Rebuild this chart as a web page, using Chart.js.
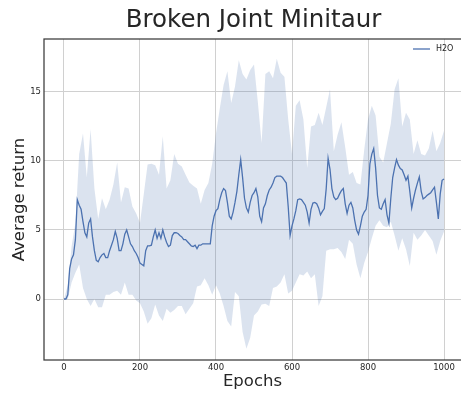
<!DOCTYPE html>
<html>
<head>
<meta charset="utf-8">
<script src="https://cdn.jsdelivr.net/npm/chart.js@4.4.1/dist/chart.umd.min.js"></script>
<style>
  html, body { margin: 0; padding: 0; background: #ffffff; overflow: hidden; }
  canvas { display: block; }
</style>
</head>
<body>
<canvas id="chart" width="461" height="396"></canvas>
<script>
// Mean return of H2O, sampled every 5 epochs
const epochs = [
  0, 5, 10, 15, 20, 25, 30, 35, 40, 45,
  50, 55, 60, 65, 70, 75, 80, 85, 90, 95,
  100, 105, 110, 115, 120, 125, 130, 135, 140, 145,
  150, 155, 160, 165, 170, 175, 180, 185, 190, 195,
  200, 205, 210, 215, 220, 225, 230, 235, 240, 245,
  250, 255, 260, 265, 270, 275, 280, 285, 290, 295,
  300, 305, 310, 315, 320, 325, 330, 335, 340, 345,
  350, 355, 360, 365, 370, 375, 380, 385, 390, 395,
  400, 405, 410, 415, 420, 425, 430, 435, 440, 445,
  450, 455, 460, 465, 470, 475, 480, 485, 490, 495,
  500, 505, 510, 515, 520, 525, 530, 535, 540, 545,
  550, 555, 560, 565, 570, 575, 580, 585, 590, 595,
  600, 605, 610, 615, 620, 625, 630, 635, 640, 645,
  650, 655, 660, 665, 670, 675, 680, 685, 690, 695,
  700, 705, 710, 715, 720, 725, 730, 735, 740, 745,
  750, 755, 760, 765, 770, 775, 780, 785, 790, 795,
  800, 805, 810, 815, 820, 825, 830, 835, 840, 845,
  850, 855, 860, 865, 870, 875, 880, 885, 890, 895,
  900, 905, 910, 915, 920, 925, 930, 935, 940, 945,
  950, 955, 960, 965, 970, 975, 980, 985, 990, 995,
  1000
];
const meanReturn = [
  0, 0, 0.3, 2.2, 2.9, 3.2, 4.3, 7.2, 6.8, 6.5,
  5.6, 4.8, 4.5, 5.5, 5.8, 4.5, 3.5, 2.8, 2.7, 3.0,
  3.2, 3.3, 3.0, 3.0, 3.5, 3.9, 4.3, 4.9, 4.4, 3.5,
  3.5, 4.0, 4.7, 5.0, 4.5, 4.0, 3.8, 3.5, 3.3, 3.0,
  2.6, 2.5, 2.4, 3.5, 3.85, 3.85, 3.9, 4.5, 5.0, 4.4,
  4.8, 4.4, 5.0, 4.5, 4.1, 3.8, 3.9, 4.6, 4.8, 4.8,
  4.75, 4.6, 4.5, 4.3, 4.3, 4.15, 4.0, 3.85, 3.8, 3.9,
  3.65, 3.9, 3.9, 4.0, 4.0, 4.0, 4.0, 4.0, 5.3, 6.0,
  6.4, 6.55, 7.2, 7.7, 8.0, 7.85, 7.0, 6.0, 5.8, 6.3,
  7.0, 7.8, 9.0, 10.1, 8.8, 7.3, 6.6, 6.3, 7.0, 7.5,
  7.7, 8.0, 7.4, 6.0, 5.6, 6.6, 6.9, 7.5, 7.9, 8.1,
  8.4, 8.8, 8.9, 8.9, 8.9, 8.8, 8.6, 8.4, 6.7, 4.6,
  5.3, 5.8, 6.4, 7.2, 7.25, 7.2, 7.0, 6.8, 6.3, 5.5,
  6.5, 6.95, 7.0, 6.9, 6.6, 6.1, 6.35, 6.55, 8.0, 10.2,
  9.4, 8.0, 7.4, 7.2, 7.3, 7.6, 7.85, 8.0, 6.9, 6.2,
  6.8, 7.0, 6.6, 5.7, 5.0, 4.7, 5.3, 6.0, 6.3, 6.5,
  7.5, 9.8, 10.5, 10.9, 9.5, 7.5, 6.6, 6.5, 6.9, 7.2,
  6.1, 5.5, 7.3, 8.8, 9.5, 10.1, 9.7, 9.45, 9.35, 9.0,
  8.6, 8.9, 7.8, 6.6, 7.3, 7.9, 8.4, 8.85, 7.8, 7.25,
  7.35, 7.5, 7.6, 7.7, 7.9, 8.1, 7.0, 5.8, 7.6, 8.6,
  8.7
];

// Spread band around the mean, sampled every 10 epochs
const bandEpochs = [
  0, 10, 20, 30, 40, 50, 60, 70, 80, 90,
  100, 110, 120, 130, 140, 150, 160, 170, 180, 190,
  200, 210, 220, 230, 240, 250, 260, 270, 280, 290,
  300, 310, 320, 330, 340, 350, 360, 370, 380, 390,
  400, 410, 420, 430, 440, 450, 460, 470, 480, 490,
  500, 510, 520, 530, 540, 550, 560, 570, 580, 590,
  600, 610, 620, 630, 640, 650, 660, 670, 680, 690,
  700, 710, 720, 730, 740, 750, 760, 770, 780, 790,
  800, 810, 820, 830, 840, 850, 860, 870, 880, 890,
  900, 910, 920, 930, 940, 950, 960, 970, 980, 990,
  1000
];
const upperReturn = [
  0, 1.0, 3.8, 5.5, 10.5, 12.0, 8.8, 12.3, 8.0, 5.8,
  7.3, 6.5, 7.2, 8.3, 9.9, 7.0, 8.1, 8.0, 6.7, 6.2,
  5.5, 7.6, 9.75, 9.8, 9.7, 9.0, 11.8, 8.0, 8.6, 10.5,
  9.8, 9.6, 9.0, 8.45, 8.2, 8.0, 6.9, 7.9, 8.4, 9.8,
  12.0, 13.8, 15.5, 16.5, 14.2, 15.4, 17.3, 16.3, 15.9, 16.6,
  17.0, 14.3, 11.3, 16.3, 16.5, 16.0, 17.4, 16.4, 16.1, 13.0,
  10.5, 14.0, 14.4, 13.0, 9.5, 12.5, 12.6, 13.5, 12.6, 13.9,
  15.2, 10.7, 11.9, 12.8, 11.0, 9.0, 9.2, 8.4, 8.3, 10.8,
  13.0, 14.0, 13.3, 10.3, 9.9, 11.3, 12.7, 15.2, 16.0, 12.5,
  13.5, 13.0, 10.5, 11.5, 10.5, 10.4, 10.9, 12.2, 10.7, 11.3,
  12.2
];
const lowerReturn = [
  0, 0, 1.2, 1.9, 2.5, 0.8, 0.0, -0.5, 0.0, -0.6,
  -0.6, 0.3, 0.3, 0.5, 0.6, 0.3, 1.2, 0.3, 0.3, -0.1,
  -0.3, -0.9, -1.8, -1.4, -0.4, -1.2, -1.6, -0.7, -1.0, -0.8,
  -0.5, -0.5, -1.1, -0.7, -0.3, 0.9, 1.0, 1.5, 1.0, 0.3,
  1.0, 0.4, -0.5, -1.6, -2.0, 0.5, 0.2, -2.4, -3.6, -2.8,
  -1.2, -0.9, -0.4, -0.35, -0.5, 0.8, 0.9, 1.2, 1.8, 0.4,
  0.6, 1.2, 1.8, 1.7, 2.0, 1.5, 1.8, -0.5, 0.2, 3.5,
  3.6, 3.6, 3.7, 3.4, 2.9, 4.3, 4.0, 2.5, 1.5, 2.6,
  3.4, 4.4, 5.3, 5.7, 5.3, 5.2, 5.6, 4.6, 3.5, 4.4,
  3.6, 2.4, 4.8, 4.3, 4.6, 5.0, 4.6, 4.2, 3.2, 4.2,
  4.9
];

const xTicks = [0, 200, 400, 600, 800, 1000];
const yTicks = [0, 5, 10, 15];

const seriesName = 'H2O';
const chartTitle = 'Broken Joint Minitaur';
const xTitle = 'Epochs';
const yTitle = 'Average return';

const lineColor = '#4c72b0';
const bandColor = 'rgba(76, 114, 176, 0.2)';
const inkColor = '#262626';
const fontFamily = '"DejaVu Sans", "Liberation Sans", sans-serif';

const toPoints = (xs, ys) => xs.map((x, i) => ({ x: x, y: ys[i] }));

// Title, legend and the axes frame are painted on top of the plot
const decorations = {
  id: 'decorations',
  afterDraw(chart) {
    const { ctx, chartArea: a } = chart;
    ctx.save();

    ctx.strokeStyle = '#3a3a3a';
    ctx.lineWidth = 1.25;
    ctx.strokeRect(a.left, a.top, a.right - a.left + 4, a.bottom - a.top);

    ctx.fillStyle = inkColor;
    ctx.textAlign = 'center';
    ctx.textBaseline = 'middle';
    ctx.font = '24.5px ' + fontFamily;
    ctx.fillText(chartTitle, (a.left + a.right) / 2 + 1, 21);

    const ly = a.top + 10;
    ctx.strokeStyle = lineColor;
    ctx.lineWidth = 1.3;
    ctx.beginPath();
    ctx.moveTo(a.right - 48, ly);
    ctx.lineTo(a.right - 31, ly);
    ctx.stroke();
    ctx.fillStyle = inkColor;
    ctx.textAlign = 'left';
    ctx.font = '8px ' + fontFamily;
    ctx.fillText(seriesName, a.right - 25, ly);

    ctx.restore();
  }
};

new Chart(document.getElementById('chart'), {
  type: 'line',
  data: {
    datasets: [
      {
        label: seriesName,
        data: toPoints(epochs, meanReturn),
        borderColor: lineColor,
        borderWidth: 1.3,
        pointRadius: 0,
        tension: 0,
        fill: false
      },
      {
        label: 'upper',
        data: toPoints(bandEpochs, upperReturn),
        borderWidth: 0,
        borderColor: 'rgba(0,0,0,0)',
        pointRadius: 0,
        tension: 0,
        fill: false
      },
      {
        label: 'lower',
        data: toPoints(bandEpochs, lowerReturn),
        borderWidth: 0,
        borderColor: 'rgba(0,0,0,0)',
        backgroundColor: bandColor,
        pointRadius: 0,
        tension: 0,
        fill: '-1'
      }
    ]
  },
  options: {
    responsive: false,
    animation: false,
    devicePixelRatio: 1,
    layout: { padding: { top: 39, left: 0, right: 0, bottom: 0 } },
    plugins: {
      legend: { display: false },
      tooltip: { enabled: false },
      title: { display: false }
    },
    scales: {
      x: {
        type: 'linear',
        min: -52.6,
        max: 1044.7,
        afterFit(scale) { scale.height = 36; },
        afterBuildTicks(scale) { scale.ticks = xTicks.map(v => ({ value: v })); },
        border: { display: false },
        grid: { color: '#d0d0d0', lineWidth: 1, drawTicks: false },
        ticks: {
          autoSkip: false,
          maxRotation: 0,
          padding: 3,
          color: inkColor,
          font: { family: fontFamily, size: 8.5 },
          callback: (value) => String(value)
        },
        title: {
          display: true,
          text: xTitle,
          color: inkColor,
          font: { family: fontFamily, size: 16.5 },
          padding: { top: 0, bottom: 4 }
        }
      },
      y: {
        type: 'linear',
        min: -4.42,
        max: 18.84,
        afterFit(scale) { scale.width = 44; },
        afterBuildTicks(scale) { scale.ticks = yTicks.map(v => ({ value: v })); },
        border: { display: false },
        grid: { color: '#d0d0d0', lineWidth: 1, drawTicks: false },
        ticks: {
          padding: 3,
          color: inkColor,
          font: { family: fontFamily, size: 8.5 },
          callback: (value) => String(value)
        },
        title: {
          display: true,
          text: yTitle,
          color: inkColor,
          font: { family: fontFamily, size: 16.5 },
          padding: { top: 10, bottom: 0 }
        }
      }
    }
  },
  plugins: [decorations]
});
</script>
</body>
</html>
